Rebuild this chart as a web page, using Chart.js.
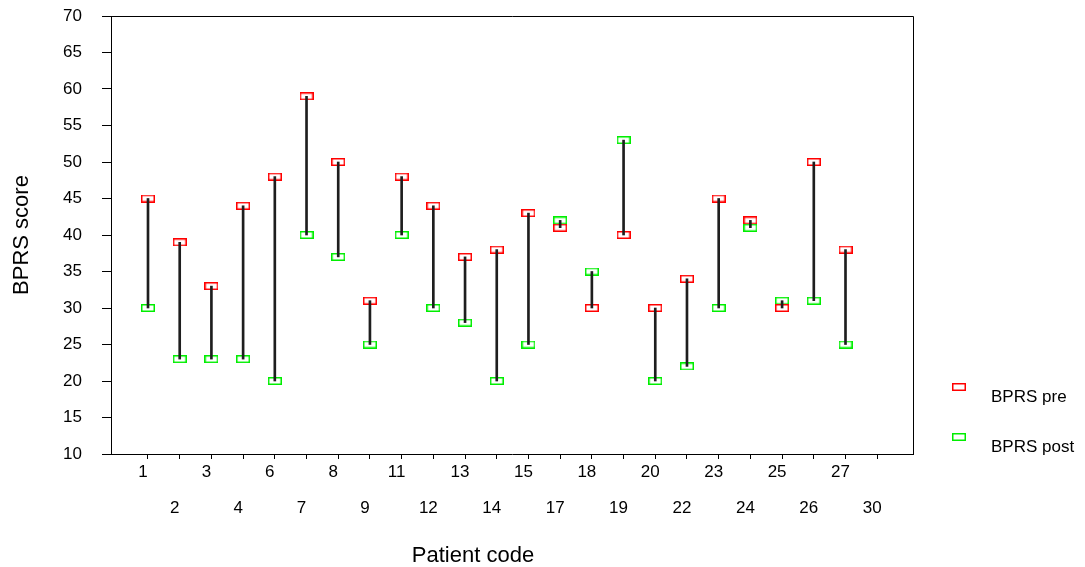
<!DOCTYPE html>
<html>
<head>
<meta charset="utf-8">
<title>BPRS score per patient</title>
<script src="https://cdn.jsdelivr.net/npm/chart.js@4/dist/chart.umd.min.js"></script>
<style>
  html, body { margin: 0; padding: 0; background: #ffffff; }
  #wrap { width: 1085px; height: 567px; }
</style>
</head>
<body>
<div id="wrap"><canvas id="chart" width="1085" height="567"></canvas></div>
<script>
// Patient codes along the x axis (the last code has no scores)
const patientCodes = ['1', '2', '3', '4', '6', '7', '8', '9', '11', '12', '13', '14',
                      '15', '17', '18', '19', '20', '22', '23', '24', '25', '26', '27', '30'];
// BPRS score before and after treatment
const bprsPre  = [45, 39, 33, 44, 48, 59, 50, 31, 48, 44, 37, 38, 43, 41, 30, 40, 30, 34, 45, 42, 30, 50, 38, null];
const bprsPost = [30, 23, 23, 23, 20, 40, 37, 25, 40, 30, 28, 20, 25, 42, 35, 53, 20, 22, 30, 41, 31, 31, 25, null];
// Y axis tick range
const yTickMin = 10;
const yTickMax = 70;
const yTickStep = 5;

const seriesNames = ['BPRS pre', 'BPRS post'];
const seriesColors = ['#ff0000', '#00ee00'];

const FONT = "'Liberation Sans', Arial, Helvetica, sans-serif";
Chart.defaults.font.family = FONT;
Chart.defaults.color = '#000000';

// Hollow rectangular marker used for the points and the legend
function boxMarker(color) {
  const c = document.createElement('canvas');
  c.width = 14;
  c.height = 8;
  const g = c.getContext('2d');
  g.strokeStyle = color;
  g.lineWidth = 1.5;
  g.strokeRect(0.75, 0.75, 12.5, 6.5);
  return c;
}
const markers = seriesColors.map(boxMarker);

function points(values) {
  const out = [];
  values.forEach((v, i) => { if (v !== null) out.push({ x: i, y: v }); });
  return out;
}
const ranges = [];
bprsPre.forEach((v, i) => {
  if (v !== null && bprsPost[i] !== null) ranges.push({ x: i, y: [v, bprsPost[i]] });
});

// Top and right edges of the plot frame
const framePlugin = {
  id: 'plotFrame',
  beforeDatasetsDraw(chart) {
    const { ctx, chartArea: a } = chart;
    ctx.save();
    ctx.strokeStyle = '#000000';
    ctx.lineWidth = 1;
    ctx.beginPath();
    ctx.moveTo(a.left, a.top + 0.5);
    ctx.lineTo(a.right + 0.5, a.top + 0.5);
    ctx.lineTo(a.right + 0.5, a.bottom);
    ctx.stroke();
    ctx.restore();
  }
};

// Legend to the right of the plot and the x axis caption
const sideTextPlugin = {
  id: 'sideText',
  afterDraw(chart) {
    const { ctx } = chart;
    ctx.save();
    ctx.fillStyle = '#000000';
    ctx.textBaseline = 'alphabetic';
    ctx.font = '17px ' + FONT;
    ctx.textAlign = 'left';
    seriesNames.forEach((name, i) => {
      const rowY = 383 + i * 50;
      ctx.drawImage(markers[i], 952, rowY);
      ctx.fillText(name, 991, rowY + 19);
    });
    ctx.font = '22px ' + FONT;
    ctx.textAlign = 'center';
    ctx.fillText('Patient code', 473, 561.5);
    ctx.restore();
  }
};

new Chart(document.getElementById('chart'), {
  type: 'scatter',
  data: {
    datasets: [
      {
        type: 'bar',
        label: 'change',
        data: ranges,
        backgroundColor: '#1e1e1e',
        borderWidth: 0,
        barThickness: 2,
        grouped: false
      },
      {
        label: seriesNames[0],
        data: points(bprsPre),
        pointStyle: markers[0],
        pointRadius: 7,
        showLine: false
      },
      {
        label: seriesNames[1],
        data: points(bprsPost),
        pointStyle: markers[1],
        pointRadius: 7,
        showLine: false
      }
    ]
  },
  options: {
    responsive: false,
    animation: false,
    events: [],
    layout: { padding: { top: 16, right: 172, bottom: 0, left: 0 } },
    plugins: {
      legend: { display: false },
      tooltip: { enabled: false }
    },
    scales: {
      x: {
        type: 'linear',
        min: -1.167,
        max: 24.129,
        offset: false,
        grid: { offset: false, drawOnChartArea: false, drawTicks: true, tickLength: 5, color: '#000000' },
        border: { display: true, color: '#000000', width: 1 },
        ticks: {
          autoSkip: false,
          maxRotation: 0,
          minRotation: 0,
          padding: 4,
          labelOffset: -5,
          color: '#000000',
          font: { size: 17, lineHeight: '18px' },
          callback: (value) => {
            const label = patientCodes[value];
            return value % 2 === 0 ? [label] : ['', '', label];
          }
        },
        afterBuildTicks: (scale) => {
          scale.ticks = patientCodes.map((_, i) => ({ value: i }));
        },
        afterFit: (scale) => {
          scale.height = 113;
          scale.paddingLeft = 0;
          scale.paddingRight = 0;
        }
      },
      y: {
        type: 'linear',
        min: yTickMin,
        max: yTickMax,
        grid: { drawOnChartArea: false, drawTicks: true, tickLength: 9, color: '#000000' },
        border: { display: true, color: '#000000', width: 1 },
        ticks: {
          stepSize: yTickStep,
          padding: 20,
          color: '#000000',
          font: { size: 17 }
        },
        title: {
          display: true,
          text: 'BPRS score',
          color: '#000000',
          font: { size: 22 },
          padding: { top: 9, bottom: 0 }
        },
        afterFit: (scale) => {
          scale.width = 111;
          scale.paddingTop = 0;
          scale.paddingBottom = 0;
        }
      }
    }
  },
  plugins: [framePlugin, sideTextPlugin]
});
</script>
</body>
</html>
